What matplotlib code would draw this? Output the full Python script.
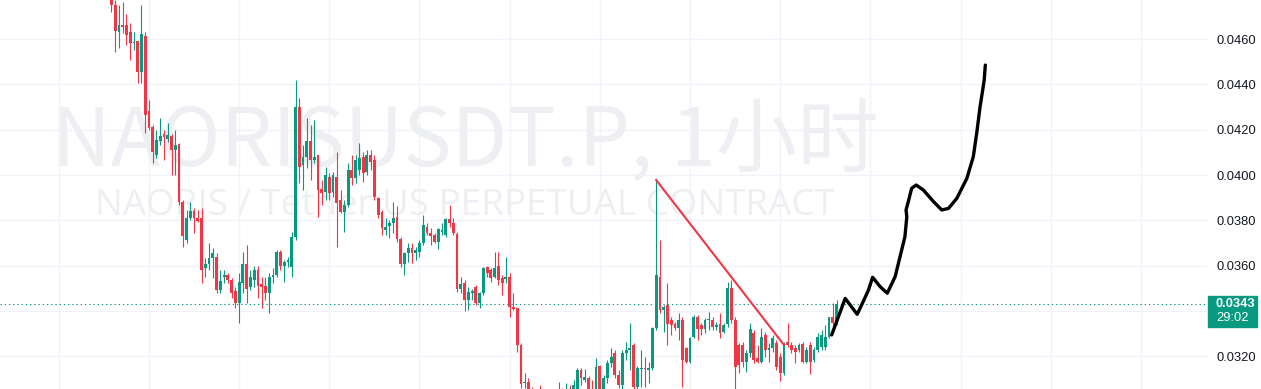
import numpy as np
import matplotlib.pyplot as plt
from matplotlib.patches import Rectangle

# NAORISUSDT.P 1h candles (USDT)
opens = [0.04807, 0.04750, 0.04631, 0.04662, 0.04662, 0.04631, 0.04582, 0.04591, 0.04454, 0.04613,
         0.04283, 0.04212, 0.04088, 0.04150, 0.04181, 0.04159, 0.04172, 0.04111, 0.04137, 0.03881,
         0.03714, 0.03811, 0.03842, 0.03811, 0.03811, 0.03590, 0.03608, 0.03634, 0.03639, 0.03493,
         0.03550, 0.03559, 0.03537, 0.03489, 0.03436, 0.03524, 0.03608, 0.03506, 0.03537, 0.03581,
         0.03520, 0.03511, 0.03480, 0.03550, 0.03559, 0.03661, 0.03599, 0.03617, 0.03595, 0.03727,
         0.04300, 0.04044, 0.04080, 0.04150, 0.04066, 0.04088, 0.03939, 0.03925, 0.03991, 0.03925,
         0.03991, 0.03890, 0.03837, 0.03868, 0.04022, 0.03987, 0.04022, 0.04080, 0.04013, 0.04088,
         0.04066, 0.03899, 0.03837, 0.03758, 0.03775, 0.03789, 0.03815, 0.03718, 0.03608, 0.03656,
         0.03678, 0.03656, 0.03661, 0.03700, 0.03771, 0.03745, 0.03736, 0.03705, 0.03749, 0.03736,
         0.03806, 0.03789, 0.03740, 0.03497, 0.03524, 0.03449, 0.03480, 0.03506, 0.03436, 0.03480,
         0.03595, 0.03581, 0.03550, 0.03599, 0.03546, 0.03542, 0.03550, 0.03418, 0.03414, 0.03251,
         0.03083, 0.03087, 0.03052, 0.03008, 0.03030, 0.03008, 0.03026, 0.02999, 0.03017, 0.03030,
         0.03043, 0.03026, 0.03043, 0.03030, 0.03030, 0.03140, 0.03096, 0.03105, 0.03057, 0.03030,
         0.03158, 0.03057, 0.03105, 0.03171, 0.03215, 0.03118, 0.03074, 0.03215, 0.03229, 0.03251,
         0.03065, 0.03145, 0.03149, 0.03140, 0.03149, 0.03326, 0.03550, 0.03405, 0.03427, 0.03361,
         0.03343, 0.03326, 0.03361, 0.03237, 0.03176, 0.03286, 0.03374, 0.03339, 0.03321, 0.03361,
         0.03361, 0.03330, 0.03343, 0.03308, 0.03343, 0.03502, 0.03361, 0.03251, 0.03251, 0.03176,
         0.03215, 0.03304, 0.03193, 0.03176, 0.03295, 0.03229, 0.03237, 0.03259, 0.03198, 0.03127,
         0.03264, 0.03251, 0.03237, 0.03229, 0.03255, 0.03176, 0.03251, 0.03184, 0.03229, 0.03242,
         0.03242, 0.03286, 0.03374, 0.03348]
highs = [0.04825, 0.04772, 0.04750, 0.04763, 0.04710, 0.04671, 0.04631, 0.04591, 0.04750, 0.04631,
         0.04331, 0.04221, 0.04199, 0.04252, 0.04199, 0.04230, 0.04181, 0.04199, 0.04141, 0.03890,
         0.03846, 0.03881, 0.03855, 0.03846, 0.03855, 0.03634, 0.03700, 0.03678, 0.03656, 0.03581,
         0.03581, 0.03568, 0.03546, 0.03506, 0.03568, 0.03661, 0.03692, 0.03581, 0.03599, 0.03599,
         0.03550, 0.03550, 0.03568, 0.03590, 0.03670, 0.03670, 0.03625, 0.03639, 0.03749, 0.04419,
         0.04340, 0.04133, 0.04252, 0.04221, 0.04243, 0.04088, 0.03978, 0.04036, 0.04009, 0.04013,
         0.04102, 0.03934, 0.03890, 0.04053, 0.04088, 0.04088, 0.04141, 0.04102, 0.04111, 0.04111,
         0.04088, 0.03903, 0.03846, 0.03811, 0.03802, 0.03881, 0.03864, 0.03727, 0.03661, 0.03700,
         0.03700, 0.03683, 0.03714, 0.03824, 0.03789, 0.03767, 0.03745, 0.03767, 0.03789, 0.03811,
         0.03868, 0.03811, 0.03749, 0.03550, 0.03537, 0.03506, 0.03497, 0.03515, 0.03484, 0.03595,
         0.03599, 0.03590, 0.03661, 0.03661, 0.03559, 0.03639, 0.03568, 0.03480, 0.03414, 0.03259,
         0.03127, 0.03105, 0.03065, 0.03043, 0.03074, 0.03043, 0.03039, 0.03043, 0.03052, 0.03087,
         0.03061, 0.03083, 0.03074, 0.03096, 0.03149, 0.03149, 0.03145, 0.03114, 0.03096, 0.03193,
         0.03162, 0.03118, 0.03184, 0.03237, 0.03229, 0.03140, 0.03229, 0.03264, 0.03348, 0.03259,
         0.03158, 0.03229, 0.03198, 0.03176, 0.03330, 0.03978, 0.03714, 0.03427, 0.03524, 0.03374,
         0.03352, 0.03392, 0.03374, 0.03242, 0.03286, 0.03383, 0.03383, 0.03348, 0.03370, 0.03396,
         0.03374, 0.03352, 0.03392, 0.03348, 0.03528, 0.03537, 0.03374, 0.03259, 0.03264, 0.03229,
         0.03348, 0.03317, 0.03251, 0.03326, 0.03308, 0.03259, 0.03295, 0.03273, 0.03215, 0.03264,
         0.03348, 0.03264, 0.03251, 0.03259, 0.03264, 0.03242, 0.03264, 0.03242, 0.03304, 0.03317,
         0.03339, 0.03374, 0.03436, 0.03449]
lows = [0.04719, 0.04543, 0.04560, 0.04626, 0.04574, 0.04507, 0.04551, 0.04406, 0.04406, 0.04185,
        0.04199, 0.04053, 0.04075, 0.04133, 0.04066, 0.04146, 0.04000, 0.04000, 0.03868, 0.03683,
        0.03700, 0.03802, 0.03745, 0.03793, 0.03524, 0.03550, 0.03581, 0.03546, 0.03480, 0.03480,
        0.03524, 0.03524, 0.03458, 0.03414, 0.03348, 0.03480, 0.03436, 0.03493, 0.03506, 0.03458,
        0.03414, 0.03449, 0.03392, 0.03524, 0.03550, 0.03581, 0.03528, 0.03595, 0.03550, 0.03714,
        0.03965, 0.03934, 0.04031, 0.03978, 0.04053, 0.03815, 0.03868, 0.03890, 0.03890, 0.03903,
        0.03683, 0.03833, 0.03749, 0.03859, 0.03956, 0.03965, 0.04000, 0.03969, 0.04000, 0.04022,
        0.03890, 0.03811, 0.03736, 0.03736, 0.03722, 0.03745, 0.03705, 0.03595, 0.03559, 0.03617,
        0.03612, 0.03625, 0.03639, 0.03692, 0.03736, 0.03692, 0.03700, 0.03674, 0.03736, 0.03727,
        0.03771, 0.03736, 0.03484, 0.03480, 0.03401, 0.03405, 0.03449, 0.03427, 0.03414, 0.03471,
        0.03550, 0.03528, 0.03546, 0.03515, 0.03471, 0.03524, 0.03374, 0.03405, 0.03220, 0.03061,
        0.03061, 0.03030, 0.02986, 0.02986, 0.02973, 0.02986, 0.02964, 0.02982, 0.03008, 0.03017,
        0.03008, 0.03017, 0.03008, 0.03017, 0.03017, 0.03074, 0.03087, 0.03043, 0.03017, 0.03017,
        0.03043, 0.03043, 0.03083, 0.03153, 0.03105, 0.03061, 0.03057, 0.03184, 0.03140, 0.03052,
        0.03057, 0.03065, 0.03065, 0.03083, 0.03140, 0.03317, 0.03392, 0.03308, 0.03251, 0.03295,
        0.03317, 0.03273, 0.03065, 0.03171, 0.03171, 0.03282, 0.03273, 0.03295, 0.03304, 0.03317,
        0.03317, 0.03317, 0.03282, 0.03304, 0.03330, 0.03348, 0.03057, 0.03127, 0.03153, 0.03131,
        0.03198, 0.03171, 0.03171, 0.03171, 0.03198, 0.03176, 0.03220, 0.03140, 0.03092, 0.03118,
        0.03242, 0.03215, 0.03171, 0.03220, 0.03171, 0.03171, 0.03123, 0.03176, 0.03220, 0.03229,
        0.03229, 0.03282, 0.03330, 0.03339]
closes = [0.04750, 0.04635, 0.04662, 0.04653, 0.04618, 0.04582, 0.04587, 0.04454, 0.04622, 0.04265,
          0.04208, 0.04102, 0.04155, 0.04172, 0.04168, 0.04177, 0.04111, 0.04133, 0.03881, 0.03731,
          0.03811, 0.03842, 0.03811, 0.03797, 0.03581, 0.03608, 0.03634, 0.03656, 0.03493, 0.03533,
          0.03559, 0.03537, 0.03480, 0.03436, 0.03528, 0.03608, 0.03497, 0.03550, 0.03581, 0.03511,
          0.03506, 0.03480, 0.03550, 0.03559, 0.03661, 0.03599, 0.03617, 0.03625, 0.03727, 0.04300,
          0.04036, 0.04080, 0.04150, 0.04066, 0.04080, 0.03934, 0.03921, 0.04000, 0.03921, 0.04000,
          0.03877, 0.03837, 0.03868, 0.04022, 0.03987, 0.04066, 0.04075, 0.04009, 0.04088, 0.04058,
          0.03903, 0.03824, 0.03767, 0.03771, 0.03789, 0.03811, 0.03718, 0.03608, 0.03656, 0.03678,
          0.03656, 0.03670, 0.03700, 0.03780, 0.03745, 0.03731, 0.03705, 0.03762, 0.03758, 0.03806,
          0.03789, 0.03745, 0.03497, 0.03520, 0.03449, 0.03484, 0.03489, 0.03436, 0.03480, 0.03590,
          0.03568, 0.03546, 0.03590, 0.03537, 0.03524, 0.03550, 0.03418, 0.03409, 0.03251, 0.03079,
          0.03087, 0.03052, 0.03008, 0.03030, 0.03008, 0.03026, 0.02999, 0.03017, 0.03030, 0.03043,
          0.03026, 0.03043, 0.03030, 0.03074, 0.03140, 0.03105, 0.03110, 0.03057, 0.03030, 0.03153,
          0.03057, 0.03105, 0.03171, 0.03198, 0.03118, 0.03074, 0.03215, 0.03229, 0.03237, 0.03065,
          0.03149, 0.03149, 0.03145, 0.03149, 0.03326, 0.03559, 0.03405, 0.03418, 0.03343, 0.03339,
          0.03326, 0.03361, 0.03184, 0.03176, 0.03282, 0.03374, 0.03321, 0.03321, 0.03361, 0.03365,
          0.03330, 0.03339, 0.03304, 0.03339, 0.03502, 0.03361, 0.03153, 0.03162, 0.03176, 0.03215,
          0.03321, 0.03184, 0.03176, 0.03286, 0.03229, 0.03237, 0.03282, 0.03153, 0.03127, 0.03259,
          0.03251, 0.03229, 0.03220, 0.03251, 0.03176, 0.03229, 0.03176, 0.03229, 0.03286, 0.03295,
          0.03286, 0.03374, 0.03348, 0.03430]

last_price = 0.0343
countdown = "29:02"

# red trend line (bar index, price)
trend_x = [145, 179]
trend_y = [0.03978, 0.03251]

# black hand drawn forecast (bar index, price)
draw_x = [191.7, 193.5, 195.3, 198.5, 200.1, 201.5, 202.6, 204.6, 206.5, 208.6, 209.9, 211.2,
          211.7, 211.5, 212.1, 213.0, 214.2, 216.1, 218.8, 221.0, 222.8, 225.0, 227.7, 229.4,
          230.3, 231.2, 231.9, 232.3, 232.6]
draw_y = [0.03295, 0.03375, 0.03456, 0.03386, 0.03442, 0.03493, 0.03549, 0.03508, 0.03479, 0.03552,
          0.03640, 0.03728, 0.03816, 0.03846, 0.03883, 0.03942, 0.03956, 0.03934, 0.03883, 0.03846,
          0.03853, 0.03897, 0.03986, 0.04081, 0.04184, 0.04301, 0.04375, 0.04419, 0.04485]

price_ticks = [0.032, 0.034, 0.036, 0.038, 0.040, 0.042, 0.044, 0.046]

UP = '#089981'
DOWN = '#f23645'
GRID = '#f0f3fa'

o = np.array(opens); h = np.array(highs); l = np.array(lows); c = np.array(closes)
pos = np.arange(len(c))
cols = np.where(c >= o, UP, DOWN)

W, H = 1261, 389
fig = plt.figure(figsize=(W / 100, H / 100), dpi=100)
ax = fig.add_axes([0, 0, 1207 / W, 1])
ax.set_xlim(-29.65, 291.6)
ax.set_ylim(0.030565, 0.04772)
for s in ax.spines.values():
    s.set_visible(False)

ax.set_xticks(np.arange(-14, 292, 24))
ax.set_yticks(price_ticks)
ax.set_yticklabels(['' if abs(t - 0.034) < 1e-9 else f'{t:.4f}' for t in price_ticks])
ax.grid(color=GRID, lw=1)
ax.set_axisbelow(True)
ax.yaxis.tick_right()
ax.tick_params(axis='y', length=0, pad=6.5, labelsize=9.3, labelcolor='#131722')
ax.tick_params(axis='x', length=0, labelbottom=False)
for t in ax.get_yticklabels():
    t.set_fontfamily('Liberation Sans')

# watermark
wm = dict(transform=ax.transAxes, ha='center', va='baseline', color='#edeff2', zorder=1)
ax.text(465 / 1207, 1 - 167 / H, 'NAORISUSDT.P, 1小时', fontsize=58.5,
        family=['Noto Sans CJK SC', 'DejaVu Sans'], **wm)
ax.text(465 / 1207, 1 - 215 / H, 'NAORIS / Tether US PERPETUAL CONTRACT', fontsize=26.5,
        family='Open Sans', **wm)

# candles
ax.vlines(pos, np.minimum(l, np.minimum(o, c)), np.maximum(h, np.maximum(o, c)),
          colors=cols, lw=0.8, zorder=3)
ax.bar(pos, np.maximum(np.abs(c - o), 0.00003), bottom=np.minimum(o, c), width=0.75,
       color=cols, linewidth=0, zorder=3)

ax.axhline(last_price, color=UP, lw=0.8, ls=(0, (1.2, 2.6)), zorder=4)
ax.plot(trend_x, trend_y, color=DOWN, lw=1.5, zorder=5)
ax.plot(draw_x, draw_y, color='black', lw=2.4, solid_capstyle='round',
        solid_joinstyle='round', zorder=6)

# last price tag on the scale
fig.add_artist(Rectangle((1208 / W, 1 - 327 / H), 49 / W, 31 / H, transform=fig.transFigure,
                         color=UP, zorder=10))
fig.text(1216 / W, 1 - 304 / H, f'{last_price:.4f}', color='white', fontsize=9.3,
         fontweight='bold', family='Liberation Sans', va='center', zorder=11)
fig.text(1216 / W, 1 - 318 / H, countdown, color='white', fontsize=9.3,
         family='Liberation Sans', va='center', zorder=11)

fig.savefig('out.png', dpi=100)
